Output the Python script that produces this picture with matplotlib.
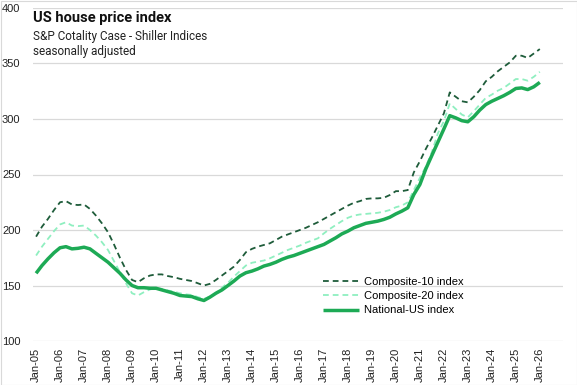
import matplotlib
matplotlib.use("Agg")
import matplotlib.pyplot as plt
import matplotlib.dates as mdates
import pandas as pd
from matplotlib.patches import Rectangle

# Quarterly readings (Jan, Apr, Jul, Oct) from Jan-2005 to Jan-2026
dates = pd.date_range("2005-01-01", "2026-01-01", freq="QS-JAN")

composite10 = [
    194, 203, 210, 218, 225, 226, 223, 222.5, 223, 219, 213, 206,
    198, 187, 175, 164, 155, 153, 156.5, 159, 160, 160, 158.5, 157.5,
    156, 155, 154, 152, 150, 151.5, 155, 159, 163, 167, 173, 180,
    183, 185, 186.5, 188, 191, 194, 196, 198, 200, 202, 204.5, 207,
    210, 213, 216, 219, 222, 224.5, 226, 228, 228.5, 228.5, 229, 231.5,
    235, 235, 236, 252, 262, 273, 283, 294, 305, 324, 320, 316,
    315, 320, 326, 334, 338, 343, 347, 351, 357, 357, 355, 359, 363,
]
composite20 = [
    177, 185, 192, 199, 205, 207, 204, 203.5, 204, 200, 195, 189,
    182, 172, 162, 152, 143, 141, 144, 146.5, 147.5, 147, 145.5, 144.5,
    143, 142, 141.5, 139.5, 138, 140, 143.5, 148, 152.5, 158, 163, 168,
    170.5, 171.5, 172.5, 174.5, 177, 179.5, 182, 184, 186, 188.5, 190.5, 192.5,
    197, 201, 204.5, 208, 211, 213, 214, 214.5, 215, 215.5, 216.5, 218,
    220.5, 222, 225, 236, 247, 257, 270, 287, 298, 314, 309, 304,
    301.5, 307, 313, 319, 322, 325.5, 328, 332, 336, 336, 334.5, 338, 342.5,
]
national = [
    161, 168, 174, 179.5, 184, 185, 183, 183.5, 184.5, 183, 179, 175,
    171, 166, 161, 155, 150, 148, 148, 147.5, 147.5, 146, 144.5, 143,
    141, 140.5, 140, 138, 136.5, 139.5, 143, 146, 150, 154, 158.5, 161.5,
    163, 165, 167.5, 169, 171, 173.5, 175.5, 177, 179, 181, 183, 185,
    187, 190, 193, 196.5, 199, 202, 204, 206, 207, 208, 209.5, 211.5,
    214.5, 217, 220, 232, 241, 255, 267, 279, 291, 303, 301, 298.5,
    297.5, 302, 308, 313, 316, 318.5, 321, 324, 327.5, 328, 326.5, 329, 333,
]

labels = ["Composite-10 index", "Composite-20 index", "National-US index"]
colors = ["#1E5C3A", "#8FEFC0", "#1DAA55"]

W, H = 577, 385
fig = plt.figure(figsize=(W / 100, H / 100), dpi=100)
plt.rcParams["font.family"] = ["Liberation Sans", "DejaVu Sans"]

ax = fig.add_axes([33 / W, 1 - 341 / H, (563 - 33) / W, (341 - 8) / H])

ax.plot(dates, composite10, color=colors[0], lw=1.3, dashes=(3.2, 2.2), label=labels[0])
ax.plot(dates, composite20, color=colors[1], lw=1.3, dashes=(3.2, 2.2), label=labels[1])
ax.plot(dates, national, color=colors[2], lw=2.5, label=labels[2], solid_capstyle="butt")

ax.set_ylim(100, 400)
ax.set_yticks([100, 150, 200, 250, 300, 350, 400])
ax.set_xlim(pd.Timestamp("2004-11-15"), pd.Timestamp("2026-12-20"))
ax.xaxis.set_major_locator(mdates.YearLocator(1, month=1, day=1))
ax.xaxis.set_major_formatter(mdates.DateFormatter("%b-%y"))
for lab in ax.get_xticklabels():
    lab.set_rotation(90)
ax.tick_params(axis="both", length=0, labelsize=8, colors="#222222")
ax.tick_params(axis="x", pad=5)
ax.tick_params(axis="y", pad=9)
ax.grid(axis="y", color="#D9D9D9", lw=0.9)
ax.set_axisbelow(True)
for s in ax.spines.values():
    s.set_visible(False)

leg = ax.legend(loc="upper left", bbox_to_anchor=(323 / W, 1 - 277 / H),
                bbox_transform=fig.transFigure, frameon=False, fontsize=8,
                handlelength=3.2, handletextpad=0.45, labelspacing=0.38,
                borderaxespad=0, borderpad=0)

fig.text(33 / W, 1 - 21.7 / H, "US house price index", fontsize=10.5,
         fontweight="bold", va="baseline", ha="left", color="#111111",
         family=["Roboto", "DejaVu Sans"])
fig.text(33 / W, 1 - 40 / H, "S&P Cotality Case - Shiller Indices", fontsize=8.5,
         va="baseline", ha="left", color="#222222", family=["Roboto", "DejaVu Sans"])
fig.text(33 / W, 1 - 54.5 / H, "seasonally adjusted", fontsize=8.5,
         va="baseline", ha="left", color="#222222", family=["Roboto", "DejaVu Sans"])

fig.patches.append(Rectangle((0.5 / W, 0.5 / H), 1 - 1 / W, 1 - 1 / H,
                             transform=fig.transFigure, fill=False,
                             edgecolor="#D9D9D9", lw=0.8))

fig.savefig("out.png", dpi=100)
